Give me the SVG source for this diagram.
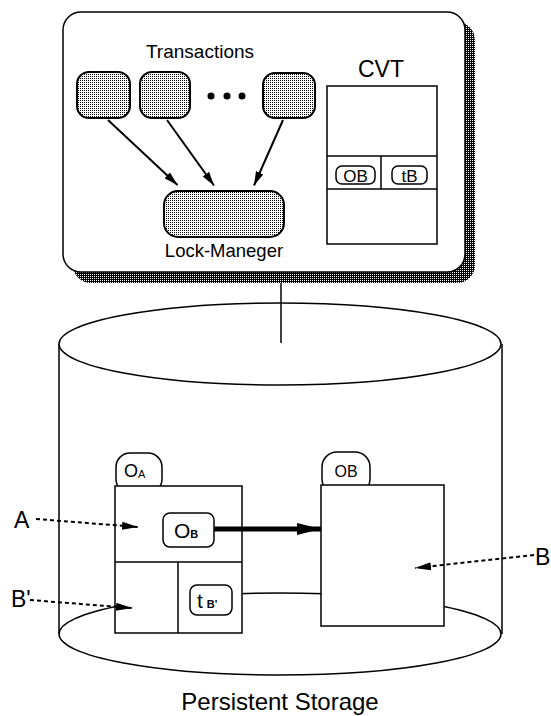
<svg xmlns="http://www.w3.org/2000/svg" width="551" height="716" viewBox="0 0 551 716">
<style>
  text { font-family: "Liberation Sans", Arial, sans-serif; fill: #000; }
  .ln { fill: none; stroke: #000; stroke-width: 1.5; }
  .box { fill: #fff; stroke: #000; stroke-width: 1.5; }
  .stip { fill: url(#light); stroke: #000; stroke-width: 2; }
  .arr { stroke: #000; stroke-width: 2; fill: none; }
  .dash { stroke: #000; stroke-width: 2; fill: none; stroke-dasharray: 4 3; }
</style>
<defs>
  <pattern id="light" width="2" height="2" patternUnits="userSpaceOnUse">
    <rect width="2" height="2" fill="#fff"/>
    <rect width="1" height="1" fill="#000"/>
  </pattern>
  <pattern id="dark" width="2" height="2" patternUnits="userSpaceOnUse">
    <rect width="2" height="2" fill="#000"/>
    <rect width="1" height="1" fill="#fff"/>
  </pattern>
  <marker id="ah" viewBox="0 0 14 8" refX="14" refY="4" markerWidth="14" markerHeight="8" markerUnits="userSpaceOnUse" orient="auto">
    <path d="M0,0 L14,4 L0,8 Z" fill="#000"/>
  </marker>
  <marker id="ahd" viewBox="0 0 16 8" refX="16" refY="4" markerWidth="16" markerHeight="8" markerUnits="userSpaceOnUse" orient="auto">
    <path d="M0,0 L16,4 L0,8 Z" fill="#000"/>
  </marker>
  <marker id="ahb" viewBox="0 0 24 12" refX="24" refY="6" markerWidth="24" markerHeight="12" markerUnits="userSpaceOnUse" orient="auto">
    <path d="M0,0 L24,6 L0,12 Z" fill="#000"/>
  </marker>
</defs>

<!-- Main memory box -->
<g id="main-memory">
  <rect x="73" y="22" width="402" height="261" rx="18" fill="url(#dark)"/>
  <rect x="63" y="12" width="402" height="260" rx="18" class="box"/>
  <text x="200" y="58" font-size="19" text-anchor="middle">Transactions</text>
</g>

<g id="t1"><rect x="77" y="72" width="53" height="46" rx="12" class="stip"/></g>
<g id="t2"><rect x="140" y="72" width="50" height="46" rx="12" class="stip"/></g>
<g id="dots">
  <circle cx="211" cy="96" r="3.5"/>
  <circle cx="227" cy="96" r="3.5"/>
  <circle cx="242" cy="96" r="3.5"/>
</g>
<g id="tn"><rect x="263" y="73" width="52" height="45" rx="12" class="stip"/></g>

<g id="lock-manager">
  <rect x="164" y="191" width="120" height="46" rx="14" class="stip"/>
  <text x="224" y="257" font-size="18.5" text-anchor="middle">Lock-Maneger</text>
</g>

<g id="cvt">
  <text x="381" y="77" font-size="23" text-anchor="middle">CVT</text>
  <rect x="327" y="86" width="110" height="158" class="box"/>
  <line x1="327" y1="156" x2="437" y2="156" class="ln"/>
  <line x1="327" y1="189" x2="437" y2="189" class="ln"/>
  <line x1="381" y1="156" x2="381" y2="189" class="ln"/>
  <rect x="336" y="166" width="39" height="18" rx="6" class="box" stroke-width="2"/>
  <text x="355.5" y="181.5" font-size="17" text-anchor="middle">OB</text>
  <rect x="392" y="166" width="35" height="18" rx="6" class="box" stroke-width="2"/>
  <text x="409.5" y="181.5" font-size="17" text-anchor="middle">tB</text>
</g>

<!-- Persistent storage cylinder -->
<g id="storage">
  <ellipse cx="280" cy="634" rx="221" ry="41" class="ln"/>
  <line x1="59" y1="344" x2="59" y2="634" class="ln"/>
  <line x1="502" y1="344" x2="502" y2="634" class="ln"/>
  <ellipse cx="280" cy="344" rx="221" ry="41" class="box"/>
  <text x="280" y="710" font-size="24" text-anchor="middle">Persistent Storage</text>
</g>

<g id="object-a">
  <rect x="116" y="453" width="46" height="40" rx="14" class="box"/>
  <text x="124" y="477" font-size="18">O<tspan font-size="11" dy="1">A</tspan></text>
  <rect x="115" y="486" width="127" height="147" class="box"/>
  <line x1="115" y1="562" x2="242" y2="562" class="ln"/>
  <line x1="178" y1="562" x2="178" y2="633" class="ln"/>
  <rect x="163" y="513" width="51" height="34" rx="7" class="box" stroke-width="2"/>
  <text x="174" y="538" font-size="21">O<tspan font-size="11" font-weight="bold">B</tspan></text>
  <rect x="190" y="585" width="42" height="30" rx="7" class="box" stroke-width="2"/>
  <text x="197" y="608" font-size="21">t<tspan font-size="11" font-weight="bold" dx="4">B'</tspan></text>
</g>

<g id="object-b">
  <rect x="322" y="452" width="48" height="42" rx="15" class="box"/>
  <text x="346" y="477" font-size="16" text-anchor="middle">OB</text>
  <rect x="321" y="485" width="123" height="141" class="box"/>
</g>

<g id="labels">
  <text x="14" y="528" font-size="23">A</text>
  <text x="11" y="607" font-size="23">B'</text>
  <text x="535" y="565" font-size="23">B</text>
</g>

<g id="connectors">
  <line x1="108" y1="120" x2="177.5" y2="185" class="arr" marker-end="url(#ah)"/>
  <line x1="167" y1="120" x2="214" y2="185.5" class="arr" marker-end="url(#ah)"/>
  <line x1="283" y1="120" x2="254" y2="185.5" class="arr" marker-end="url(#ah)"/>
  <line x1="281" y1="283" x2="281" y2="343" class="ln"/>
  <line x1="214" y1="529" x2="321" y2="529" stroke="#000" stroke-width="5" marker-end="url(#ahb)"/>
  <line x1="36" y1="519" x2="138" y2="527" class="dash" marker-end="url(#ahd)"/>
  <line x1="30" y1="600" x2="132" y2="608" class="dash" marker-end="url(#ahd)"/>
  <line x1="534" y1="555" x2="415" y2="568" class="dash" marker-end="url(#ahd)"/>
</g>
</svg>
